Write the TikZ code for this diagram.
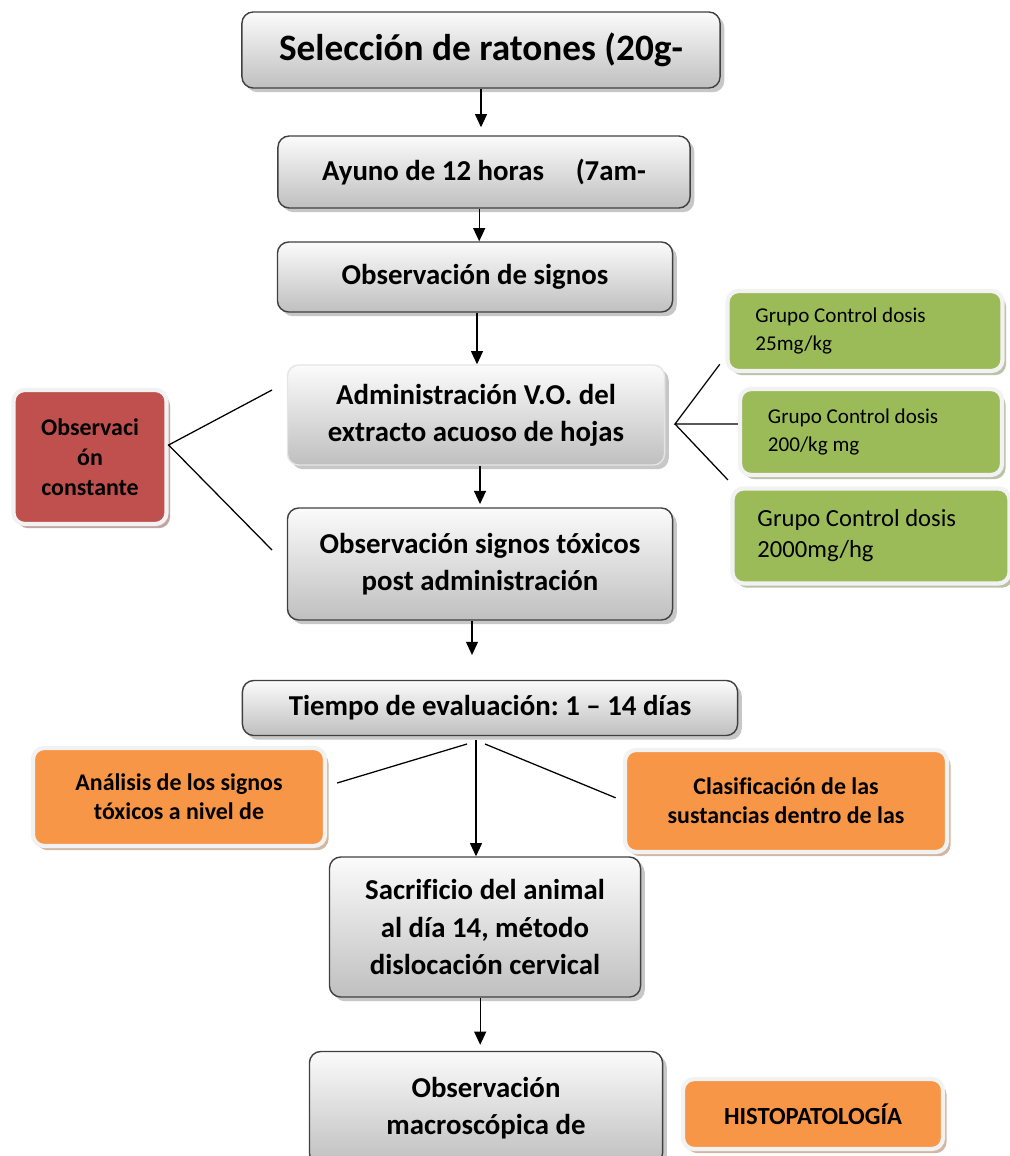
\documentclass[tikz,border=0pt]{standalone}
\usepackage{fontspec}
\setmainfont{Carlito}[Ligatures={TeX,NoCommon}]
\usetikzlibrary{positioning,calc,shadows,arrows.meta}
\definecolor{boxred}{HTML}{C0504D}
\definecolor{boxgreen}{HTML}{9BBB59}
\definecolor{boxorange}{HTML}{F79646}
\definecolor{framegray}{HTML}{F2F2F2}
\tikzset{gbox/.style={rounded corners=8pt, draw=gray!50!black, line width=1pt, top color=gray!3, bottom color=gray!50, drop shadow={shadow xshift=3pt, shadow yshift=-3pt, fill=gray!80, opacity=.55}, align=center, inner sep=0pt, font=\fontsize{20.5}{26.5}\selectfont\bfseries}}
\tikzset{cbox/.style={rounded corners=8pt, draw=framegray, line width=3pt, fill=#1, drop shadow={shadow xshift=2.5pt, shadow yshift=-3pt, fill=#1!45!gray, opacity=.6}, align=center, inner sep=0pt}}
\tikzset{gtext/.style={align=flush left, font=\fontsize{15}{20}\selectfont}}
\tikzset{otext/.style={font=\fontsize{17}{20.5}\selectfont\bfseries}}
\tikzset{arr/.style={draw, -{Triangle[length=3.3mm,width=3mm]}, line width=0.9pt}}
\tikzset{link/.style={draw, line width=0.9pt}}
\frenchspacing
\begin{document}
\begin{tikzpicture}[x=0.025cm, y=-0.025cm]
	\useasboundingbox[fill=white] (0,0) rectangle (1010,1156);
	% main column
	\node[gbox, minimum width=11.95cm, minimum height=1.9cm, font=\fontsize{26.5}{32}\selectfont\bfseries] (sel) at (481,50) {Selección de ratones (20g-};
	\node[gbox, minimum width=10.3cm, minimum height=1.8cm] (ayu) at (484,172) {Ayuno de 12 horas\hspace{1.1em}(7am-};
	\node[gbox, minimum width=9.875cm, minimum height=1.75cm] (obs) at (475,277) {Observación de signos};
	\node[gbox, draw=gray!20, minimum width=9.425cm, minimum height=2.5cm] (adm) at (476,415) {Administración V.O. del\\extracto acuoso de hojas};
	\node[gbox, minimum width=9.625cm, minimum height=2.8cm] (tox) at (480,564) {Observación signos tóxicos\\post administración};
	\node[gbox, minimum width=12.375cm, minimum height=1.375cm] (tie) at (490,708) {Tiempo de evaluación: 1 -- 14 días};
	\node[gbox, minimum width=7.775cm, minimum height=3.5cm] (sac) at (485,927) {Sacrificio del animal\\al día 14, método\\dislocación cervical};
	\node[gbox, minimum width=8.825cm, minimum height=2.825cm] (mac) at (486,1108) {Observación\\macroscópica de};
	% side boxes
	\node[cbox=boxred, minimum width=3.825cm, minimum height=3.35cm, font=\fontsize{17}{21.5}\selectfont\bfseries] (obsc) at (90,457) {Observaci\\ón\\constante};
	\node[cbox=boxgreen, gtext, text width=5.475cm, inner xsep=0.7cm, minimum height=2cm] (g1) at (865,331) {Grupo Control dosis\\25mg/kg};
	\node[cbox=boxgreen, gtext, text width=5.15cm, inner xsep=0.7cm, minimum height=2.15cm] (g2) at (871,432) {Grupo Control dosis\\200/kg mg};
	\node[cbox=boxgreen, gtext, text width=5.675cm, inner xsep=0.625cm, minimum height=2.375cm, font=\fontsize{17.5}{22}\selectfont] (g3) at (871,536) {Grupo Control dosis\\2000mg/hg};
	\node[cbox=boxorange, otext, minimum width=7.3cm, minimum height=2.45cm] (ana) at (179,797) {Análisis de los signos\\tóxicos a nivel de};
	\node[cbox=boxorange, otext, minimum width=8.05cm, minimum height=2.55cm] (cla) at (786,801) {Clasificación de las\\sustancias dentro de las};
	\node[cbox=boxorange, minimum width=6.5cm, minimum height=1.75cm, font=\fontsize{17.5}{21}\selectfont\bfseries] (his) at (813,1114) {HISTOPATOLOGÍA};
	% arrows
	\draw[arr, shorten >=0.2cm] (sel.south) -- (sel.south |- ayu.north);
	\draw[arr] ([xshift=-0.12cm]ayu.south) -- ([xshift=-0.12cm]ayu.south |- obs.north);
	\draw[arr] ([xshift=0.05cm]obs.south) -- ([xshift=0.05cm]obs.south |- adm.north);
	\draw[arr, shorten >=0.08cm] (tox.north |- adm.south) -- (tox.north);
	\draw[arr, shorten >=0.62cm] ([xshift=-0.2cm]tox.south) -- ([xshift=-0.2cm]tox.south |- tie.north);
	\draw[arr, shorten <=0.1cm] ([xshift=-0.35cm]tie.south) -- ([xshift=-0.35cm]tie.south |- sac.north);
	\draw[arr, shorten >=0.15cm] ([xshift=-0.12cm]sac.south) -- ([xshift=-0.12cm]sac.south |- mac.north);
	% side links
	\coordinate (lup) at (272,390);
	\coordinate (ldn) at (272,550);
	\draw[link] (lup) -- ([yshift=0.3cm]obsc.east) -- (ldn);
	\coordinate (rhub) at (675,424);
	\draw[link] ([shift={(-0.14cm,0.22cm)}]g1.south west) -- (rhub) -- (rhub -| g2.west);
	\draw[link] (rhub) -- ([shift={(-0.06cm,0.16cm)}]g3.north west);
	\coordinate (tl) at (467,744);
	\coordinate (tr) at (485,744);
	\draw[link] (tl) -- ([shift={(0.25cm,0.35cm)}]ana.east);
	\draw[link] (tr) -- ([shift={(-0.18cm,0.08cm)}]cla.west);
\end{tikzpicture}
\end{document}
